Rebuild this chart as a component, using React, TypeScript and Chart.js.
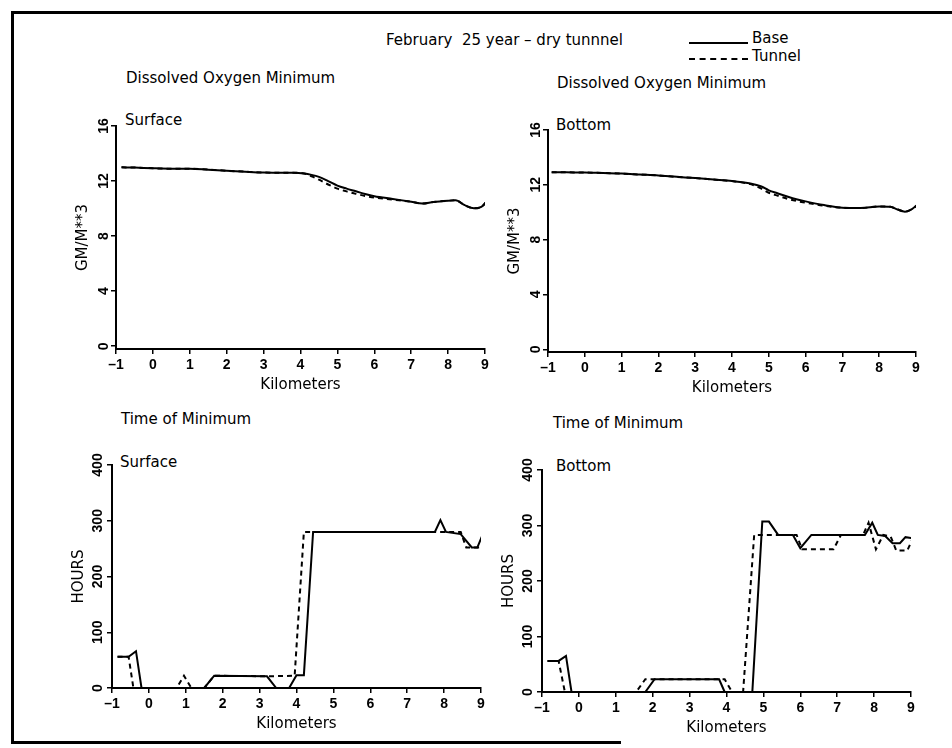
import React, { useEffect, useRef } from "react";
import { Chart, registerables } from "chart.js";

Chart.register(...registerables);

// ---------- data ----------
// Dissolved oxygen minimum, surface (GM/M**3)
const surfDoKm = [-0.85, -0.5, 0, 0.5, 1, 1.5, 2, 2.5, 3, 3.5, 3.8, 4.1, 4.3, 4.5, 4.75, 5, 5.25, 5.5, 5.75, 6, 6.5, 7, 7.3, 7.6, 8, 8.2, 8.45, 8.7, 8.9, 9.1];
const surfDoBase = [13.0, 12.98, 12.93, 12.9, 12.9, 12.83, 12.75, 12.68, 12.62, 12.6, 12.6, 12.55, 12.45, 12.3, 12.0, 11.67, 11.45, 11.26, 11.06, 10.9, 10.7, 10.5, 10.37, 10.48, 10.57, 10.6, 10.25, 10.02, 10.12, 10.7];
const surfDoTunnel = [13.0, 12.98, 12.93, 12.9, 12.9, 12.83, 12.75, 12.68, 12.62, 12.6, 12.6, 12.55, 12.35, 12.1, 11.75, 11.45, 11.25, 11.07, 10.92, 10.8, 10.65, 10.5, 10.37, 10.48, 10.57, 10.6, 10.25, 10.02, 10.12, 10.7];

// Dissolved oxygen minimum, bottom (GM/M**3)
const botDoKm = [-0.9, -0.5, 0, 0.5, 1, 1.5, 2, 2.5, 3, 3.5, 4, 4.5, 4.8, 5, 5.25, 5.5, 5.75, 6, 6.5, 7, 7.5, 8, 8.3, 8.5, 8.7, 8.9, 9.1];
const botDoBase = [12.92, 12.91, 12.9, 12.86, 12.82, 12.75, 12.68, 12.58, 12.49, 12.38, 12.27, 12.1, 11.88, 11.6, 11.37, 11.15, 10.95, 10.79, 10.52, 10.33, 10.3, 10.42, 10.4, 10.2, 10.04, 10.25, 10.67];
const botDoTunnel = [12.92, 12.91, 12.9, 12.86, 12.82, 12.75, 12.68, 12.58, 12.49, 12.38, 12.27, 12.05, 11.72, 11.42, 11.2, 10.98, 10.82, 10.7, 10.47, 10.33, 10.3, 10.42, 10.4, 10.2, 10.04, 10.25, 10.67];

// Time of minimum, surface (hours)
const surfTimeBaseKm = [-0.85, -0.55, -0.35, -0.2, 1.5, 1.77, 3.2, 3.45, 3.8, 4.0, 4.2, 4.45, 7.75, 7.9, 8.05, 8.45, 8.75, 8.9, 9.05];
const surfTimeBase = [56, 56, 66, 0, 0, 22, 21, 0, 0, 23, 23, 280, 280, 301, 280, 276, 252, 252, 276];
const surfTimeTunnelKm = [-0.85, -0.55, -0.42, 0.75, 0.95, 1.15, 1.5, 1.77, 3.2, 3.95, 4.2, 8.45, 8.6, 9.05];
const surfTimeTunnel = [56, 56, 0, 0, 22, 0, 0, 22, 21, 22, 280, 280, 252, 252];

// Time of minimum, bottom (hours)
const botTimeBaseKm = [-0.85, -0.55, -0.35, -0.2, 1.8, 2.05, 3.8, 3.95, 4.7, 4.97, 5.15, 5.4, 5.8, 6.0, 6.3, 7.75, 7.95, 8.1, 8.3, 8.5, 8.7, 8.85, 9.05];
const botTimeBase = [56, 56, 65, 0, 0, 23, 23, 0, 0, 307, 307, 283, 283, 259, 283, 283, 305, 283, 281, 268, 268, 279, 277];
const botTimeTunnelKm = [-0.85, -0.55, -0.38, 1.55, 1.8, 3.95, 4.15, 4.45, 4.75, 5.9, 6.05, 6.9, 7.1, 7.7, 7.85, 8.05, 8.25, 8.45, 8.6, 8.9, 9.05];
const botTimeTunnel = [56, 56, 0, 0, 23, 23, 0, 0, 283, 283, 257, 257, 283, 283, 305, 257, 283, 280, 255, 255, 277];

const kmMin = -1;
const kmMax = 9;
const doMax = 16;
const doStep = 4;
const hoursMax = 400;
const hoursStep = 100;

// ---------- styling ----------
const TEXT_FONT = "'DejaVu Sans', 'Noto Sans', sans-serif";
const TICK_FONT = "'Liberation Sans', Arial, sans-serif";
const Y_AXIS_W = 50;
const X_AXIS_H = 48;
const PAD_T = 14;
const PAD_R = 14;

type Box = { left: number; right: number; top: number; bottom: number };

type PanelProps = {
  box: Box;
  yMin: number;
  yMax: number;
  yStep: number;
  yTitle: string;
  baseKm: number[];
  baseVals: number[];
  tunnelKm: number[];
  tunnelVals: number[];
  smooth: boolean;
  yTickPad: number;
};

function Panel(props: PanelProps) {
  const { box, yMin, yMax, yStep, yTitle, baseKm, baseVals, tunnelKm, tunnelVals, smooth, yTickPad } = props;
  const ref = useRef<HTMLCanvasElement>(null);
  const left = box.left - Y_AXIS_W;
  const top = box.top - PAD_T;
  const width = box.right + PAD_R - left;
  const height = box.bottom + X_AXIS_H - top;

  useEffect(() => {
    if (!ref.current) return;
    const tickFont = { family: TICK_FONT, size: 14, weight: "bold" as const };
    const titleFont = { family: TEXT_FONT, size: 15 };
    const lineCommon = {
      borderColor: "#000",
      borderWidth: 2,
      pointRadius: 0,
      fill: false,
      tension: smooth ? 0.4 : 0,
      cubicInterpolationMode: smooth ? ("monotone" as const) : ("default" as const),
    };
    const chart = new Chart(ref.current, {
      type: "line",
      data: {
        datasets: [
          { ...lineCommon, label: "Base", data: baseKm.map((x, i) => ({ x, y: baseVals[i] })) },
          { ...lineCommon, label: "Tunnel", borderDash: [5, 4], data: tunnelKm.map((x, i) => ({ x, y: tunnelVals[i] })) },
        ],
      },
      options: {
        responsive: false,
        maintainAspectRatio: false,
        animation: false,
        layout: { padding: { top: PAD_T, right: PAD_R, left: 0, bottom: 0 } },
        plugins: { legend: { display: false }, tooltip: { enabled: false }, title: { display: false } },
        scales: {
          x: {
            type: "linear",
            min: kmMin,
            max: kmMax,
            ticks: {
              stepSize: 1,
              autoSkip: false,
              maxRotation: 0,
              color: "#000",
              font: tickFont,
              padding: 3,
              callback: (v: any) => (Number(v) < 0 ? "\u2013" + Math.abs(Number(v)) : String(v)),
            },
            grid: { drawOnChartArea: false, drawTicks: true, tickLength: 5, color: "#000", lineWidth: 1.5 },
            border: { display: true, color: "#000", width: 2 },
            title: { display: true, text: "Kilometers", color: "#000", font: titleFont, padding: { top: 0, bottom: 3 } },
            afterFit: (s: any) => {
              s.height = X_AXIS_H;
            },
          },
          y: {
            type: "linear",
            min: yMin,
            max: yMax,
            ticks: {
              stepSize: yStep,
              includeBounds: false,
              minRotation: 90,
              maxRotation: 90,
              crossAlign: "center",
              color: "#000",
              font: tickFont,
              padding: yTickPad,
            },
            grid: { drawOnChartArea: false, drawTicks: true, tickLength: 5, color: "#000", lineWidth: 1.5 },
            border: { display: true, color: "#000", width: 2 },
            title: { display: true, text: yTitle, color: "#000", font: titleFont, padding: { top: 8, bottom: 0 } },
            afterFit: (s: any) => {
              s.width = Y_AXIS_W;
            },
          },
        },
      },
    });
    return () => chart.destroy();
  }, []);

  return (
    <canvas
      ref={ref}
      width={width}
      height={height}
      style={{ position: "absolute", left, top, width, height }}
    />
  );
}

function Label({ text, left, cy, size = 15 }: { text: string; left: number; cy: number; size?: number }) {
  return (
    <div
      style={{
        position: "absolute",
        left,
        top: cy - 10,
        height: 20,
        lineHeight: "20px",
        fontFamily: TEXT_FONT,
        fontSize: size,
        color: "#000",
        whiteSpace: "pre",
      }}
    >
      {text}
    </div>
  );
}

export default function App() {
  return (
    <div style={{ position: "absolute", left: 0, top: 0, width: 952, height: 748, background: "#fff", overflow: "hidden" }}>
      {/* frame */}
      <div style={{ position: "absolute", left: 11, top: 11, width: 941, height: 3, background: "#000" }} />
      <div style={{ position: "absolute", left: 11, top: 11, width: 3, height: 733, background: "#000" }} />
      <div style={{ position: "absolute", left: 11, top: 741, width: 610, height: 3, background: "#000" }} />

      {/* header */}
      <Label text={"February  25 year \u2013 dry tunnnel"} left={386} cy={40} />
      <div style={{ position: "absolute", left: 689, top: 42, width: 59, height: 0, borderTop: "2px solid #000" }} />
      <Label text="Base" left={752} cy={38} />
      <div style={{ position: "absolute", left: 689, top: 58, width: 59, height: 0, borderTop: "2px dashed #000" }} />
      <Label text="Tunnel" left={752} cy={56} />

      <Label text="Dissolved Oxygen Minimum" left={126} cy={78} />
      <Label text="Dissolved Oxygen Minimum" left={557} cy={83} />
      <Label text="Surface" left={125} cy={120} />
      <Label text="Bottom" left={556} cy={125} />

      <Label text="Time of Minimum" left={121} cy={419} />
      <Label text="Time of Minimum" left={553} cy={423} />
      <Label text="Surface" left={120} cy={462} />
      <Label text="Bottom" left={556} cy={466} />

      <Panel
        box={{ left: 116, right: 485, top: 126, bottom: 349 }}
        yMin={-0.2}
        yMax={doMax}
        yStep={doStep}
        yTitle="GM/M**3"
        baseKm={surfDoKm}
        baseVals={surfDoBase}
        tunnelKm={surfDoKm}
        tunnelVals={surfDoTunnel}
        smooth={true}
        yTickPad={-1}
      />
      <Panel
        box={{ left: 548, right: 916, top: 130, bottom: 352 }}
        yMin={-0.2}
        yMax={doMax}
        yStep={doStep}
        yTitle="GM/M**3"
        baseKm={botDoKm}
        baseVals={botDoBase}
        tunnelKm={botDoKm}
        tunnelVals={botDoTunnel}
        smooth={true}
        yTickPad={-1}
      />
      <Panel
        box={{ left: 112, right: 481, top: 465, bottom: 688 }}
        yMin={0}
        yMax={hoursMax}
        yStep={hoursStep}
        yTitle="HOURS"
        baseKm={surfTimeBaseKm}
        baseVals={surfTimeBase}
        tunnelKm={surfTimeTunnelKm}
        tunnelVals={surfTimeTunnel}
        smooth={false}
        yTickPad={-3}
      />
      <Panel
        box={{ left: 542, right: 911, top: 470, bottom: 692 }}
        yMin={0}
        yMax={hoursMax}
        yStep={hoursStep}
        yTitle="HOURS"
        baseKm={botTimeBaseKm}
        baseVals={botTimeBase}
        tunnelKm={botTimeTunnelKm}
        tunnelVals={botTimeTunnel}
        smooth={false}
        yTickPad={-3}
      />
    </div>
  );
}
